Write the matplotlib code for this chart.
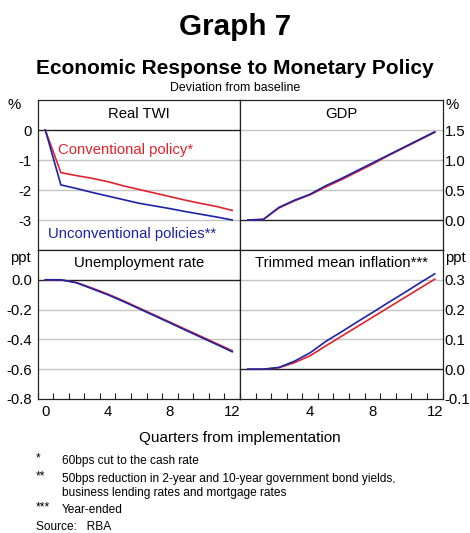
import matplotlib
matplotlib.use("Agg")
import matplotlib.pyplot as plt
import numpy as np

plt.rcParams['font.family'] = ['Liberation Sans', 'DejaVu Sans']

quarters = list(range(0, 13))

twi_conv = [0.0, -1.42, -1.52, -1.61, -1.72, -1.86, -1.98, -2.10, -2.22, -2.34, -2.45, -2.55, -2.68]
twi_unconv = [0.0, -1.83, -1.95, -2.08, -2.20, -2.32, -2.44, -2.53, -2.62, -2.72, -2.81, -2.90, -3.00]

gdp_conv = [0.0, 0.01, 0.20, 0.32, 0.42, 0.55, 0.67, 0.80, 0.93, 1.07, 1.20, 1.33, 1.46]
gdp_unconv = [0.0, 0.01, 0.21, 0.33, 0.43, 0.57, 0.69, 0.82, 0.95, 1.08, 1.21, 1.34, 1.47]

unemp_conv = [0.0, 0.0, -0.018, -0.055, -0.095, -0.14, -0.188, -0.236, -0.284, -0.332, -0.380, -0.428, -0.476]
unemp_unconv = [0.0, 0.0, -0.02, -0.06, -0.10, -0.145, -0.193, -0.241, -0.289, -0.338, -0.386, -0.434, -0.483]

infl_conv = [0.0, 0.0, 0.005, 0.022, 0.045, 0.078, 0.110, 0.142, 0.174, 0.206, 0.238, 0.270, 0.302]
infl_unconv = [0.0, 0.0, 0.006, 0.027, 0.055, 0.093, 0.125, 0.158, 0.190, 0.223, 0.255, 0.288, 0.320]

RED = '#E3232B'
BLUE = '#1B23A8'
GRID = '#C4C4C4'

W, H = 470, 533
fig = plt.figure(figsize=(W / 100, H / 100), dpi=100)

def fx(px):
    return px / W

def fy(py):
    return 1 - py / H

L0, L1, R1 = 37.5, 240, 442.5
T0, T1, B1 = 100, 250, 399
FS = 10.7

def make_ax(x0, x1, y0, y1):
    return fig.add_axes([fx(x0), fy(y1), fx(x1) - fx(x0), fy(y0) - fy(y1)])

panels = [
    dict(pos=(L0, L1, T0, T1), title='Real TWI', ylim=(-4, 1), yt=[0, -1, -2, -3],
         fmt='{:.0f}', side='left', c=twi_conv, u=twi_unconv),
    dict(pos=(L1, R1, T0, T1), title='GDP', ylim=(-0.5, 2.0), yt=[0.0, 0.5, 1.0, 1.5],
         fmt='{:.1f}', side='right', c=gdp_conv, u=gdp_unconv),
    dict(pos=(L0, L1, T1, B1), title='Unemployment rate', ylim=(-0.8, 0.2),
         yt=[0.0, -0.2, -0.4, -0.6, -0.8], fmt='{:.1f}', side='left',
         c=unemp_conv, u=unemp_unconv),
    dict(pos=(L1, R1, T1, B1), title='Trimmed mean inflation***', ylim=(-0.1, 0.4),
         yt=[0.3, 0.2, 0.1, 0.0, -0.1], fmt='{:.1f}', side='right',
         c=infl_conv, u=infl_unconv),
]

axes = []
for i, p in enumerate(panels):
    ax = make_ax(*p['pos'])
    axes.append(ax)
    ax.set_xlim(-0.5, 12.5)
    ax.set_ylim(*p['ylim'])
    for v in p['yt']:
        if abs(v) < 1e-9:
            ax.axhline(v, color='#222222', lw=1.0, zorder=2)
        elif v > p['ylim'][0] + 1e-9:
            ax.axhline(v, color=GRID, lw=1.0, zorder=1)
    ax.plot(quarters, p['c'], color=RED, lw=1.2, zorder=3)
    ax.plot(quarters, p['u'], color=BLUE, lw=1.2, zorder=4)
    ax.set_yticks(p['yt'])
    ax.set_yticklabels([p['fmt'].format(v).replace('-0.0', '0.0') for v in p['yt']])
    if p['side'] == 'left':
        ax.yaxis.tick_left()
        ax.tick_params(axis='y', length=0, pad=4, labelsize=FS)
    else:
        ax.yaxis.tick_right()
        ax.tick_params(axis='y', length=0, pad=1.5, labelsize=FS)
    for s in ax.spines.values():
        s.set_linewidth(0.9)
        s.set_color('#222222')
    ax.text(0.5, 0.91, p['title'], transform=ax.transAxes, ha='center', va='center',
            fontsize=FS)
    ax.set_xticks(np.arange(-0.5, 13, 1.0), minor=True)
    if i >= 2:
        ax.tick_params(axis='x', which='minor', direction='in', length=4, width=0.8,
                       color='#222222')
        ax.tick_params(axis='x', which='major', length=0, labelsize=FS, pad=4)
        if i == 2:
            ax.set_xticks([0, 4, 8, 12])
        else:
            ax.set_xticks([4, 8, 12])
    else:
        ax.tick_params(axis='x', which='both', length=0, labelbottom=False)
        ax.set_xticks([])

# unit labels
fig.text(fx(14), fy(105), '%', ha='center', va='center', fontsize=FS)
fig.text(fx(445), fy(105), '%', ha='left', va='center', fontsize=FS)
fig.text(fx(20), fy(258), 'ppt', ha='center', va='center', fontsize=FS)
fig.text(fx(445), fy(258), 'ppt', ha='left', va='center', fontsize=FS)

# series labels
fig.text(fx(58), fy(150), 'Conventional policy*', color=RED, fontsize=FS,
         ha='left', va='center')
fig.text(fx(48), fy(234), 'Unconventional policies**', color=BLUE, fontsize=FS,
         ha='left', va='center')

# titles
fig.text(0.5, fy(27), 'Graph 7', ha='center', va='center', fontsize=21.3, fontweight='bold')
fig.text(0.5, fy(68), 'Economic Response to Monetary Policy', ha='center', va='center',
         fontsize=15, fontweight='bold')
fig.text(0.5, fy(88), 'Deviation from baseline', ha='center', va='center', fontsize=8.9)
fig.text(fx(240), fy(438), 'Quarters from implementation', ha='center', va='center',
         fontsize=11)

# footnotes
fs = 8.6
fig.text(fx(36), fy(458), '*', ha='left', va='center', fontsize=fs)
fig.text(fx(62), fy(461), '60bps cut to the cash rate', ha='left', va='center', fontsize=fs)
fig.text(fx(36), fy(476), '**', ha='left', va='center', fontsize=fs)
fig.text(fx(62), fy(479), '50bps reduction in 2-year and 10-year government bond yields,',
         ha='left', va='center', fontsize=fs)
fig.text(fx(62), fy(493), 'business lending rates and mortgage rates', ha='left',
         va='center', fontsize=fs)
fig.text(fx(36), fy(507), '***', ha='left', va='center', fontsize=fs)
fig.text(fx(62), fy(510), 'Year-ended', ha='left', va='center', fontsize=fs)
fig.text(fx(36), fy(527), 'Source:   RBA', ha='left', va='center', fontsize=fs)

fig.savefig('out.png', dpi=100)
